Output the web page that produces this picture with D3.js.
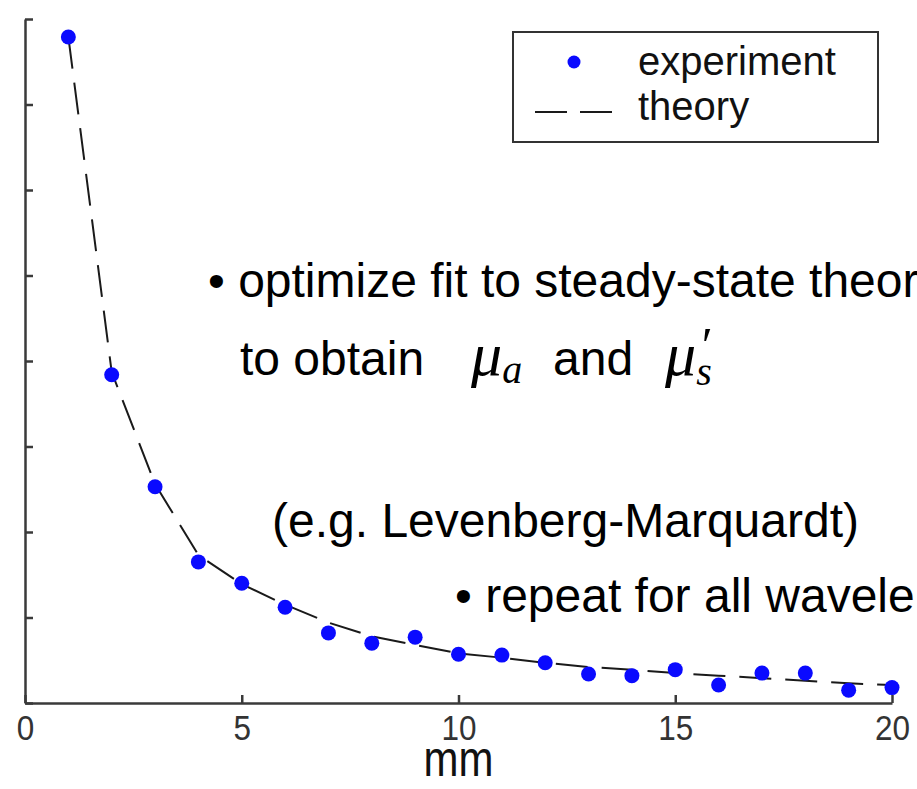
<!DOCTYPE html>
<html><head><meta charset="utf-8">
<script src="https://cdn.jsdelivr.net/npm/d3@7"></script>
<style>body{margin:0;background:#fff;} svg{display:block;overflow:hidden}</style>
</head><body>
<svg id="c" width="917" height="789"></svg>
<script>
const distances = [1,2,3,4,5,6,7,8,9,10,11,12,13,14,15,16,17,18,19,20];
const experiment = [7.79,3.84,2.53,1.65,1.40,1.12,0.82,0.70,0.77,0.57,0.56,0.47,0.34,0.32,0.39,0.21,0.35,0.35,0.15,0.18];
const theory = [7.79,3.87,2.56,1.73,1.39,1.15,0.94,0.78,0.68,0.58,0.53,0.47,0.42,0.39,0.35,0.32,0.29,0.26,0.23,0.21];
const xTicks = [0,5,10,15,20];
const yTicks = [0,1,2,3,4,5,6,7,8];
const legendLabels = ["experiment","theory"];
const xLabel = "mm";

const svg = d3.select("#c");
const x = d3.scaleLinear().domain([0,20]).range([25,892]);
const y = d3.scaleLinear().domain([0,8]).range([703,19]);
const axisColor = "#3a3a3a";
const font = "'Liberation Sans', Arial, Helvetica, sans-serif";
const math = "'Liberation Serif', 'DejaVu Serif', serif";

// theory dashed line
svg.append("path")
  .datum(distances.map((d,i)=>[d,theory[i]]))
  .attr("fill","none").attr("stroke","#1a1a1a").attr("stroke-width",2)
  .attr("stroke-dasharray","32,14")
  .attr("d", d3.line().x(d=>x(d[0])).y(d=>y(d[1])));

// experiment markers
svg.append("g").selectAll("circle").data(distances).join("circle")
  .attr("cx", d=>x(d)).attr("cy",(d,i)=>y(experiment[i])).attr("r",7.5)
  .attr("fill","#0a0aff");

// axes
const xAxis = svg.append("g").attr("transform",`translate(0,${y(0)})`)
  .call(d3.axisBottom(x).tickValues(xTicks).tickSize(-8).tickSizeOuter(0).tickPadding(12).tickFormat(d3.format("d")));
const yAxis = svg.append("g").attr("transform",`translate(${x(0)},0)`)
  .call(d3.axisLeft(y).tickValues(yTicks).tickSize(-8).tickSizeOuter(0).tickFormat(""));
[xAxis,yAxis].forEach(a=>{
  a.select(".domain").attr("stroke",axisColor).attr("stroke-width",2.5);
  a.selectAll(".tick line").attr("stroke",axisColor).attr("stroke-width",2.5);
});
xAxis.selectAll(".tick text").attr("font-family",font).attr("font-size",35)
  .attr("fill","#333").attr("transform","scale(0.9,1)");

svg.append("text").attr("transform",`translate(${x(10)},776) scale(0.84,1)`)
  .attr("text-anchor","middle").attr("font-family",font).attr("font-size",50)
  .attr("fill","#111").text(xLabel);

// legend
const lg = svg.append("g");
lg.append("rect").attr("x",513).attr("y",32).attr("width",365).attr("height",110)
  .attr("fill","#fff").attr("stroke","#333").attr("stroke-width",2);
lg.append("circle").attr("cx",574).attr("cy",62).attr("r",6.5).attr("fill","#0a0aff");
lg.append("line").attr("x1",535).attr("x2",612).attr("y1",112).attr("y2",112)
  .attr("stroke","#1a1a1a").attr("stroke-width",2).attr("stroke-dasharray","32,13");
lg.selectAll("text").data(legendLabels).join("text")
  .attr("x",638).attr("y",(d,i)=>75+i*45)
  .attr("font-family",font).attr("font-size",40).attr("fill","#111").text(d=>d);

// annotations
const ann = svg.append("g").attr("font-family",font).attr("font-size",48).attr("fill","#000");
ann.append("text").attr("x",208).attr("y",297).text("• optimize fit to steady-state theory");
ann.append("text").attr("x",240).attr("y",375).text("to obtain");
const t2 = ann.append("text").attr("x",471).attr("y",375);
t2.append("tspan").attr("font-family",math).attr("font-style","italic").attr("font-size",62).text("μ");
t2.append("tspan").attr("font-family",math).attr("font-style","italic").attr("font-size",40).attr("dy",8).text("a");
ann.append("text").attr("x",553).attr("y",375).text("and");
const t3 = ann.append("text").attr("x",665).attr("y",375);
t3.append("tspan").attr("font-family",math).attr("font-style","italic").attr("font-size",62).text("μ");
t3.append("tspan").attr("font-family",math).attr("font-style","italic").attr("font-size",40).attr("dy",10).text("s");
t3.append("tspan").attr("font-family",math).attr("font-size",50).attr("dx",-10).attr("dy",-23).text("′");
ann.append("text").attr("x",272).attr("y",537).text("(e.g. Levenberg-Marquardt)");
ann.append("text").attr("x",455).attr("y",612).text("• repeat for all wavelengths");
</script>
</body></html>
